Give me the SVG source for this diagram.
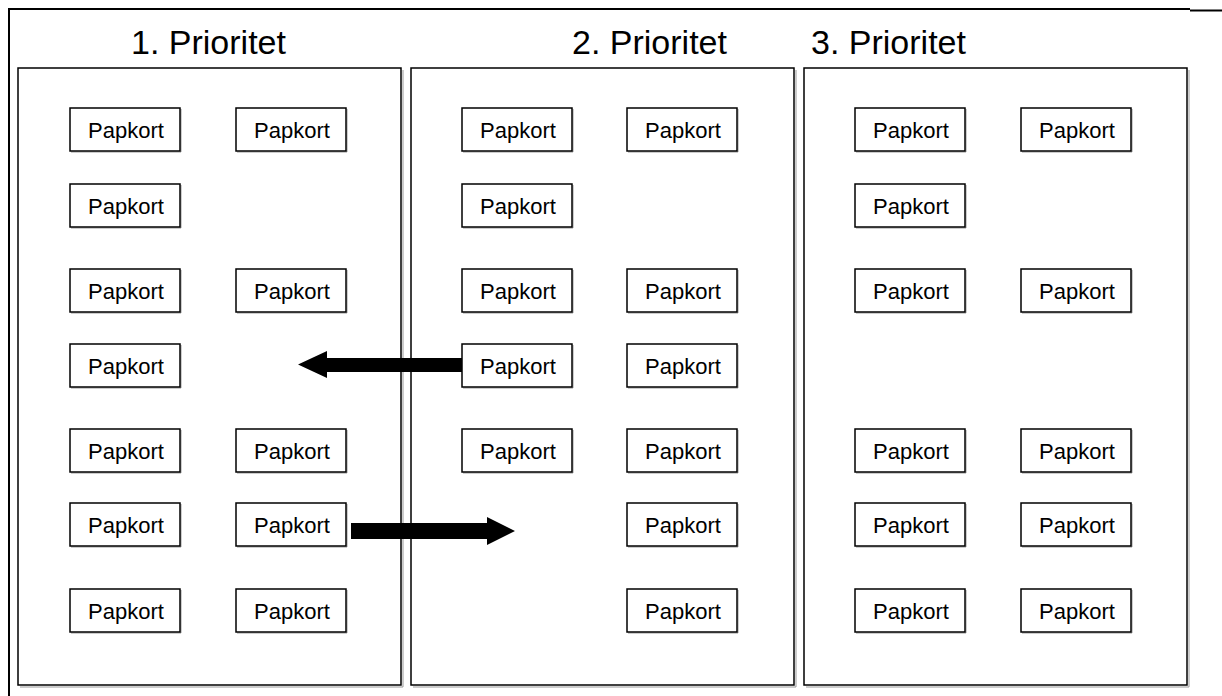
<svg xmlns="http://www.w3.org/2000/svg" width="1222" height="696" viewBox="0 0 1222 696">
<style>
.panel{fill:#fff;stroke:#000;stroke-width:1.5}
.shadow{fill:none;stroke:#999;stroke-width:1}
.title{font-family:"Liberation Sans",Arial,sans-serif;font-size:34px;fill:#000}
.frame{stroke:#000;stroke-width:2;fill:none}
</style>
<defs>
<g id="pk"><path d="M111,1 V44 H1" fill="none" stroke="#999" stroke-width="1"/><rect x="0" y="0" width="110" height="43" fill="#fff" stroke="#000" stroke-width="1.5"/><text x="56" y="30" font-family="Liberation Sans, Arial, sans-serif" font-size="22" fill="#000" text-anchor="middle">Papkort</text></g>
</defs>
<rect width="1222" height="696" fill="#fff"/>
<g id="frame">
<path class="frame" d="M9,696 V9 H1190"/>
<path class="frame" d="M1190,10.5 H1222"/>
</g>
<g id="titles">
<text class="title" x="131" y="54">1. Prioritet</text>
<text class="title" x="572" y="54">2. Prioritet</text>
<text class="title" x="811" y="54">3. Prioritet</text>
</g>
<g id="panel1"><path class="shadow" d="M403,70 V687 H20"/><rect class="panel" x="18" y="68" width="383" height="617"/></g>
<g id="panel2"><path class="shadow" d="M796,70 V687 H413"/><rect class="panel" x="411" y="68" width="383" height="617"/></g>
<g id="panel3"><path class="shadow" d="M1189,70 V687 H806"/><rect class="panel" x="804" y="68" width="383" height="617"/></g>
<g id="connectors">
<path d="M462,358 H327 V351 L298,364.5 L327,378 V372 H462 Z" fill="#000"/>
<path d="M351,523 H487 V517 L515,531 L487,545 V539 H351 Z" fill="#000"/>
</g>
<g id="p1-boxes">
<use id="p1r1a" href="#pk" x="70" y="108"/>
<use id="p1r1b" href="#pk" x="236" y="108"/>
<use id="p1r2a" href="#pk" x="70" y="184"/>
<use id="p1r3a" href="#pk" x="70" y="269"/>
<use id="p1r3b" href="#pk" x="236" y="269"/>
<use id="p1r4a" href="#pk" x="70" y="344"/>
<use id="p1r5a" href="#pk" x="70" y="429"/>
<use id="p1r5b" href="#pk" x="236" y="429"/>
<use id="p1r6a" href="#pk" x="70" y="503"/>
<use id="p1r6b" href="#pk" x="236" y="503"/>
<use id="p1r7a" href="#pk" x="70" y="589"/>
<use id="p1r7b" href="#pk" x="236" y="589"/>
</g>
<g id="p2-boxes">
<use id="p2r1a" href="#pk" x="462" y="108"/>
<use id="p2r1b" href="#pk" x="627" y="108"/>
<use id="p2r2a" href="#pk" x="462" y="184"/>
<use id="p2r3a" href="#pk" x="462" y="269"/>
<use id="p2r3b" href="#pk" x="627" y="269"/>
<use id="p2r4a" href="#pk" x="462" y="344"/>
<use id="p2r4b" href="#pk" x="627" y="344"/>
<use id="p2r5a" href="#pk" x="462" y="429"/>
<use id="p2r5b" href="#pk" x="627" y="429"/>
<use id="p2r6b" href="#pk" x="627" y="503"/>
<use id="p2r7b" href="#pk" x="627" y="589"/>
</g>
<g id="p3-boxes">
<use id="p3r1a" href="#pk" x="855" y="108"/>
<use id="p3r1b" href="#pk" x="1021" y="108"/>
<use id="p3r2a" href="#pk" x="855" y="184"/>
<use id="p3r3a" href="#pk" x="855" y="269"/>
<use id="p3r3b" href="#pk" x="1021" y="269"/>
<use id="p3r5a" href="#pk" x="855" y="429"/>
<use id="p3r5b" href="#pk" x="1021" y="429"/>
<use id="p3r6a" href="#pk" x="855" y="503"/>
<use id="p3r6b" href="#pk" x="1021" y="503"/>
<use id="p3r7a" href="#pk" x="855" y="589"/>
<use id="p3r7b" href="#pk" x="1021" y="589"/>
</g>
</svg>
